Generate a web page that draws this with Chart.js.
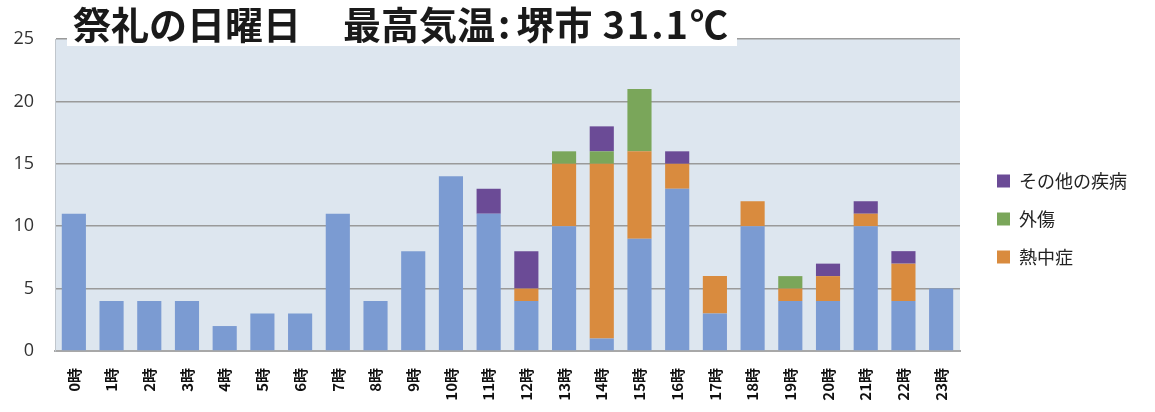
<!DOCTYPE html>
<html lang="ja">
<head>
<meta charset="utf-8">
<script src="https://cdn.jsdelivr.net/npm/chart.js@4"></script>
<style>
    html, body { margin: 0; padding: 0; background: #fff; }
    #wrap { position: relative; width: 1155px; height: 412px; }
    #chartTitle {
        position: absolute; left: 67px; top: 0; width: 670px; height: 46px;
        background: #fff; font-family: "Noto Sans CJK JP", sans-serif;
        font-weight: bold; font-size: 38px; line-height: 46px; color: #1a1a1a;
        padding-left: 6px; box-sizing: border-box; white-space: nowrap;
    }
    #chartTitle .gap { display: inline-block; width: 42px; }
    #chartTitle .colon { margin: 0 6px 0 3px; }
    #chartTitle .temp { margin-left: 10px; letter-spacing: 2px; }
</style>
</head>
<body>
<div id="wrap">
    <canvas id="chart"></canvas>
    <div id="chartTitle">祭礼の日曜日<span class="gap"></span>最高気温<span class="colon">:</span>堺市<span class="temp">31.1℃</span></div>
</div>
<script>
// Data
const hours = ['0時', '1時', '2時', '3時', '4時', '5時', '6時', '7時', '8時', '9時', '10時', '11時',
    '12時', '13時', '14時', '15時', '16時', '17時', '18時', '19時', '20時', '21時', '22時', '23時'];
const baseCases = [11, 4, 4, 4, 2, 3, 3, 11, 4, 8, 14, 11, 4, 10, 1, 9, 13, 3, 10, 4, 4, 10, 4, 5];
const heatstroke = [0, 0, 0, 0, 0, 0, 0, 0, 0, 0, 0, 0, 1, 5, 14, 7, 2, 3, 2, 1, 2, 1, 3, 0];
const injury = [0, 0, 0, 0, 0, 0, 0, 0, 0, 0, 0, 0, 0, 1, 1, 5, 0, 0, 0, 1, 0, 0, 0, 0];
const otherIllness = [0, 0, 0, 0, 0, 0, 0, 0, 0, 0, 0, 2, 3, 0, 2, 0, 1, 0, 0, 0, 1, 1, 1, 0];
const yTicks = [0, 5, 10, 15, 20, 25];

const plotBg = {
    id: 'plotBg',
    beforeDraw(chart) {
        const { ctx, chartArea: a } = chart;
        ctx.save();
        ctx.fillStyle = '#dde6ef';
        ctx.fillRect(a.left, a.top, a.right - a.left, a.bottom - a.top);
        ctx.restore();
    }
};

// move the legend a bit away from the plot and up
const legendShift = {
    id: 'legendShift',
    afterLayout(chart) {
        const lg = chart.legend;
        lg.left += 17;
        lg.right += 17;
        lg.top -= 5;
        lg.bottom -= 5;
    }
};

new Chart(document.getElementById('chart'), {
    type: 'bar',
    data: {
        labels: hours,
        datasets: [
            { label: '', data: baseCases, backgroundColor: '#7b9bd2' },
            { label: '熱中症', data: heatstroke, backgroundColor: '#d98b3e' },
            { label: '外傷', data: injury, backgroundColor: '#7aa65a' },
            { label: 'その他の疾病', data: otherIllness, backgroundColor: '#6b4b96' }
        ]
    },
    options: {
        responsive: true,
        maintainAspectRatio: false,
        animation: false,
        layout: { padding: { left: 0, top: 39, right: 35, bottom: 3 } },
        datasets: { bar: { barPercentage: 0.64, categoryPercentage: 1 } },
        plugins: {
            tooltip: { enabled: false },
            legend: {
                position: 'right',
                reverse: true,
                labels: {
                    filter: item => item.text !== '',
                    boxWidth: 13, boxHeight: 13, padding: 20, color: '#222',
                    font: { family: '"Noto Sans CJK JP", sans-serif', size: 18 }
                }
            }
        },
        scales: {
            x: {
                stacked: true,
                afterFit: axis => { axis.height = 58; },
                grid: { display: false, drawTicks: false },
                border: { color: '#a8a8a8', width: 2 },
                ticks: {
                    minRotation: 90, maxRotation: 90, padding: 17, color: '#111',
                    font: { family: '"Noto Sans CJK JP", sans-serif', size: 15, weight: 'bold' }
                }
            },
            y: {
                stacked: true,
                min: 0, max: 25,
                afterBuildTicks: axis => { axis.ticks = yTicks.map(v => ({ value: v })); },
                afterFit: axis => { axis.width = 55; },
                grid: { color: '#9a9a9a', lineWidth: 1.5, drawTicks: false },
                border: { color: '#c0c6cc', width: 1 },
                ticks: {
                    padding: 21, color: '#333',
                    font: { family: '"Open Sans", sans-serif', size: 18 }
                }
            }
        }
    },
    plugins: [plotBg, legendShift]
});
</script>
</body>
</html>
